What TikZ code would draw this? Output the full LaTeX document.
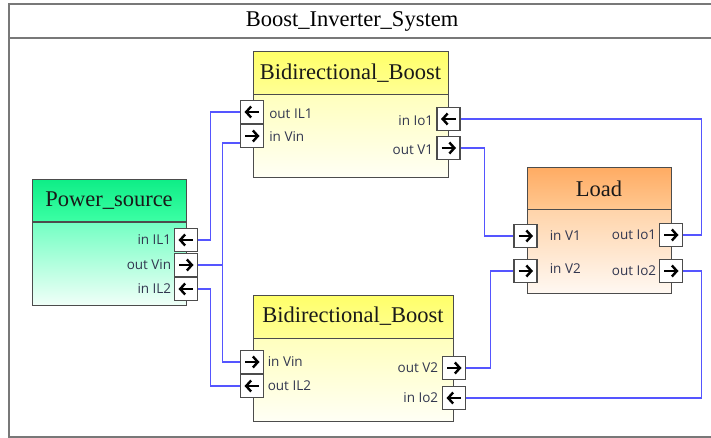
\documentclass[tikz,border=0pt]{standalone}
\usepackage{fontspec}
\setmainfont{Liberation Serif}
\newfontfamily\portfont{Open Sans}
\usetikzlibrary{arrows.meta,calc}
\definecolor{wireblue}{RGB}{85,85,255}
\definecolor{labelc}{RGB}{50,55,80}
\definecolor{frameg}{RGB}{120,120,120}
\definecolor{psh1}{RGB}{15,238,135}
\definecolor{psh2}{RGB}{60,255,165}
\definecolor{psb1}{RGB}{115,255,195}
\definecolor{psb2}{RGB}{240,255,248}
\definecolor{bbh1}{RGB}{255,255,105}
\definecolor{bbh2}{RGB}{255,255,150}
\definecolor{bbb1}{RGB}{255,255,190}
\definecolor{bbb2}{RGB}{255,255,245}
\definecolor{ldh1}{RGB}{255,172,100}
\definecolor{ldh2}{RGB}{255,200,145}
\definecolor{ldb1}{RGB}{255,212,170}
\definecolor{ldb2}{RGB}{255,248,242}
\begin{document}
\begin{tikzpicture}[x=1pt,y=-1pt,
  blockhead/.style={draw=black!70, line width=1pt, inner sep=0pt, text=black!90, font=\fontsize{22.5}{22.5}\selectfont},
  blockbody/.style={draw=black!70, line width=1pt, inner sep=0pt},
  port/.style={draw=black!70, fill=white, line width=1.2pt, minimum width=23pt, minimum height=23pt, inner sep=0pt},
  pr/.style={port, path picture={\draw[black, line width=2.4pt,-{Straight Barb[length=5pt,width=11pt]}] ([xshift=-7pt]path picture bounding box.center) -- ([xshift=7.5pt]path picture bounding box.center);}},
  pl/.style={port, path picture={\draw[black, line width=2.4pt,-{Straight Barb[length=5pt,width=11pt]}] ([xshift=7pt]path picture bounding box.center) -- ([xshift=-7.5pt]path picture bounding box.center);}},
  lbl/.style={font=\portfont\fontsize{13.5}{13.5}\selectfont, text=labelc, inner sep=0pt},
  wire/.style={draw=wireblue, line width=1.5pt},
]
\clip (0,0) rectangle (711,438);
\useasboundingbox (0,0) rectangle (711,438);
\fill[white] (0,0) rectangle (711,438);
% frame
\draw[frameg, line width=2pt] (9,4) rectangle (720,437);
\draw[frameg, line width=2pt] (9,38) -- (720,38);
\node[font=\fontsize{22.5}{22.5}\selectfont, anchor=base, inner sep=0pt] (title) at (352,27) {Boost\_Inverter\_System};

% Power source
\node[blockbody, top color=psb1, bottom color=psb2, minimum width=154pt, minimum height=83pt] (psb) at (109,263.5) {};
\node[blockhead, top color=psh1, bottom color=psh2, minimum width=154pt, minimum height=42pt] (psh) at (109,201) {Power\_source};
% B1
\node[blockbody, top color=bbb1, bottom color=bbb2, minimum width=195pt, minimum height=83pt] (b1b) at (350.5,136.5) {};
\node[blockhead, top color=bbh1, bottom color=bbh2, minimum width=195pt, minimum height=43pt] (b1h) at (350.5,73.5) {Bidirectional\_Boost};
% B2
\node[blockbody, top color=bbb1, bottom color=bbb2, minimum width=200pt, minimum height=83pt] (b2b) at (353,379.5) {};
\node[blockhead, top color=bbh1, bottom color=bbh2, minimum width=200pt, minimum height=43pt] (b2h) at (353,316.5) {Bidirectional\_Boost};
% Load
\node[blockbody, top color=ldb1, bottom color=ldb2, minimum width=144pt, minimum height=83pt] (ldb) at (599,251.5) {};
\node[blockhead, top color=ldh1, bottom color=ldh2, minimum width=144pt, minimum height=42pt] (ldh) at (599,189) {Load};

% ports
\node[pl] (psil1) at (186,240) {};
\node[pr] (psvin) at (186,265) {};
\node[pl] (psil2) at (186,289) {};
\node[pl] (b1il1) at (252,112) {};
\node[pr] (b1vin) at (252,136) {};
\node[pl] (b1io1) at (448.5,119) {};
\node[pr] (b1v1) at (448.5,148) {};
\node[pr] (b2vin) at (252,362) {};
\node[pl] (b2il2) at (252,386) {};
\node[pr] (b2v2) at (454,368) {};
\node[pl] (b2io2) at (454,398) {};
\node[pr] (ldv1) at (525.5,236) {};
\node[pr] (ldv2) at (525.5,271) {};
\node[pr] (ldio1) at (671,235) {};
\node[pr] (ldio2) at (671,271) {};

% labels
\node[lbl, anchor=east] at ([xshift=-2.5pt]psil1.west) {in IL1};
\node[lbl, anchor=east] at ([xshift=-2.5pt]psvin.west) {out Vin};
\node[lbl, anchor=east] at ([xshift=-2.5pt]psil2.west) {in IL2};
\node[lbl, anchor=west] at ([xshift=5pt,yshift=-1.5pt]b1il1.east) {out IL1};
\node[lbl, anchor=west] at ([xshift=5pt,yshift=-1pt]b1vin.east) {in Vin};
\node[lbl, anchor=east] at ([xshift=-3pt,yshift=-1.5pt]b1io1.west) {in Io1};
\node[lbl, anchor=east] at ([xshift=-3pt,yshift=-1.5pt]b1v1.west) {out V1};
\node[lbl, anchor=west] at ([xshift=3.5pt]b2vin.east) {in Vin};
\node[lbl, anchor=west] at ([xshift=3.5pt]b2il2.east) {out IL2};
\node[lbl, anchor=east] at ([xshift=-3.5pt]b2v2.west) {out V2};
\node[lbl, anchor=east] at ([xshift=-3.5pt]b2io2.west) {in Io2};
\node[lbl, anchor=west] at ([xshift=12pt]ldv1.east) {in V1};
\node[lbl, anchor=west] at ([xshift=12pt,yshift=2pt]ldv2.east) {in V2};
\node[lbl, anchor=east] at ([xshift=-2.5pt]ldio1.west) {out Io1};
\node[lbl, anchor=east] at ([xshift=-2.5pt]ldio2.west) {out Io2};

% wires
\coordinate (b1vinw) at ([yshift=-7pt]b1vin.west);
\draw[wire] (psil1.east) -- ([xshift=12.5pt]psil1.east) |- (b1il1.west);
\draw[wire] (psvin.east) -- ([xshift=24.5pt]psvin.east) coordinate (vj);
\draw[wire] (vj) |- (b1vinw);
\draw[wire] (vj) |- (b2vin.west);
\draw[wire] (psil2.east) -- ([xshift=12.5pt]psil2.east) |- (b2il2.west);
\draw[wire] (ldio1.east) -- ([xshift=18.5pt]ldio1.east) |- (b1io1.east);
\draw[wire] (b1v1.east) -- ([xshift=24pt]b1v1.east) |- (ldv1.west);
\draw[wire] (b2v2.east) -- ([xshift=24.5pt]b2v2.east) |- (ldv2.west);
\draw[wire] (ldio2.east) -- ([xshift=18.5pt]ldio2.east) |- (b2io2.east);
\end{tikzpicture}
\end{document}
